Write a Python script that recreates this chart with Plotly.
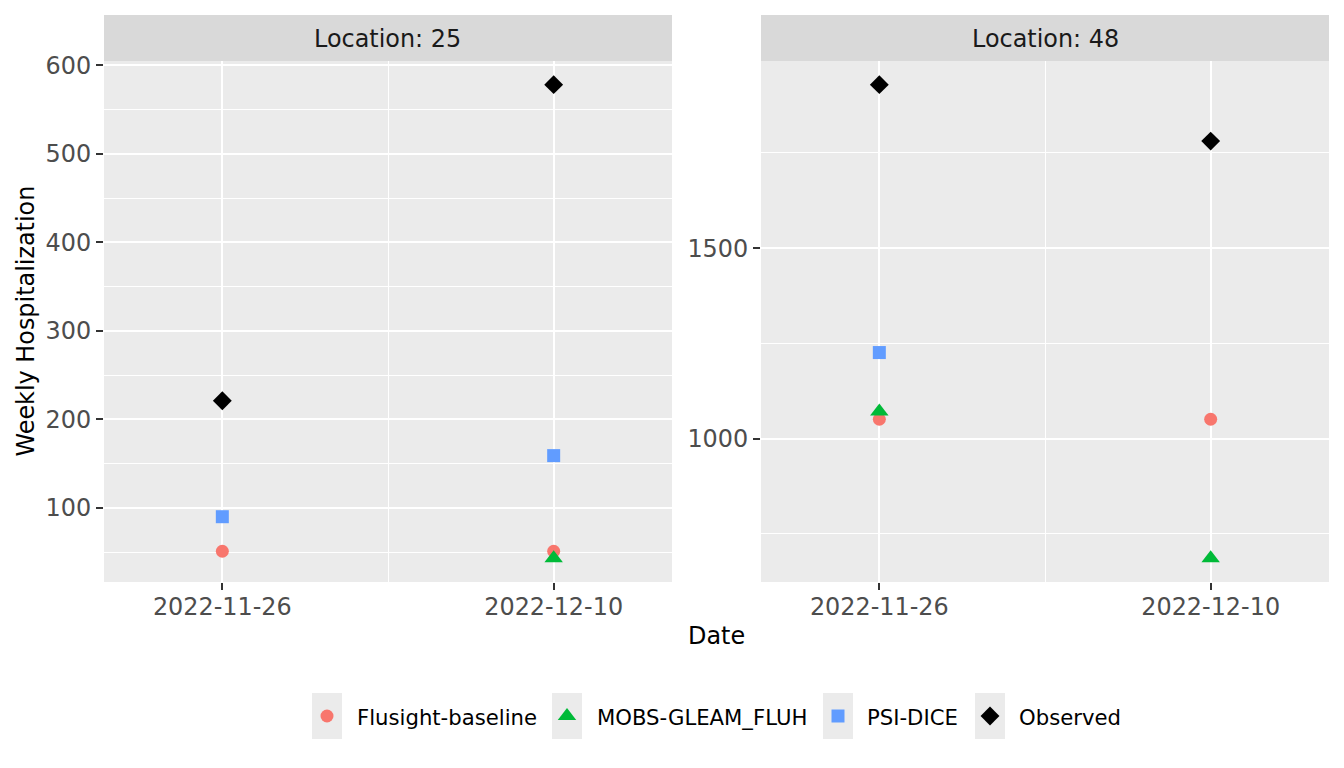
import plotly.graph_objects as go

# ---------------- data ----------------
dates = ["2022-11-26", "2022-12-10"]
tick_labels = ["2022-11-26", "2022-12-10"]
models = ["Flusight-baseline", "MOBS-GLEAM_FLUH", "PSI-DICE", "Observed"]

loc25_flusight = [51, 51]
loc25_mobs = [None, 43]
loc25_psi = [90, 159]
loc25_observed = [221, 578]

loc48_flusight = [1051, 1051]
loc48_mobs = [1071, 686]
loc48_psi = [1226, None]
loc48_observed = [1929, 1781]

locations = ["25", "48"]

# ---------------- styles ----------------
W, H = 1344, 768
FONT = "DejaVu Sans"
FS = 23.9
FS_LEG = 21.2
colors = {"Flusight-baseline": "#F8766D", "MOBS-GLEAM_FLUH": "#00BA38",
          "PSI-DICE": "#619CFF", "Observed": "#000000"}
symbols = {"Flusight-baseline": "circle", "MOBS-GLEAM_FLUH": "triangle-up",
           "PSI-DICE": "square", "Observed": "diamond"}
sizes = {"Flusight-baseline": 13, "MOBS-GLEAM_FLUH": 16,
         "PSI-DICE": 13, "Observed": 14.5}

PANEL_X = [(104, 672), (761, 1329)]
PANEL_TOP, PANEL_BOT = 61, 582
STRIP_TOP = 15


def px(x):
    return x / W


def py(y):
    return 1 - y / H


def ggrange(values):
    v = [a for a in values if a is not None]
    lo, hi = min(v), max(v)
    pad = (hi - lo) * 0.05
    return [lo - pad, hi + pad]


fig = go.Figure()

panels = [
    (loc25_flusight, loc25_mobs, loc25_psi, loc25_observed),
    (loc48_flusight, loc48_mobs, loc48_psi, loc48_observed),
]

for i, series in enumerate(panels):
    xa = "x" if i == 0 else "x2"
    ya = "y" if i == 0 else "y2"
    for name, vals in zip(models, series):
        fig.add_trace(go.Scatter(
            x=dates, y=vals, mode="markers", name=name, showlegend=False,
            xaxis=xa, yaxis=ya,
            marker=dict(color=colors[name], symbol=symbols[name], size=sizes[name],
                        line=dict(width=0)),
        ))

common_x = dict(
    type="date", range=["2022-11-21", "2022-12-15"],
    tickmode="array", tickvals=dates, ticktext=tick_labels,
    ticks="outside", ticklen=7, tickwidth=2, tickcolor="#333333",
    tickfont=dict(family=FONT, size=FS, color="#4D4D4D"),
    ticklabelstandoff=-4,
    showgrid=True, gridcolor="white", gridwidth=2.2,
    minor=dict(tickmode="array", tickvals=["2022-12-03"], showgrid=True,
               gridcolor="white", gridwidth=1.1, ticks=""),
    zeroline=False, showline=False, fixedrange=True, automargin=False,
)
common_y = dict(
    ticks="outside", ticklen=7, tickwidth=2, tickcolor="#333333",
    tickfont=dict(family=FONT, size=FS, color="#4D4D4D"),
    showgrid=True, gridcolor="white", gridwidth=2.2,
    zeroline=False, showline=False, fixedrange=True, automargin=False,
)

r1 = ggrange(loc25_flusight + loc25_mobs + loc25_psi + loc25_observed)
r2 = ggrange(loc48_flusight + loc48_mobs + loc48_psi + loc48_observed)

fig.update_layout(
    template="none",
    width=W, height=H,
    margin=dict(l=0, r=0, t=0, b=0, pad=0, autoexpand=False),
    paper_bgcolor="white", plot_bgcolor="rgba(0,0,0,0)",
    font=dict(family=FONT, size=FS, color="black"),
    showlegend=False,
    xaxis=dict(common_x, domain=[px(PANEL_X[0][0]), px(PANEL_X[0][1])], anchor="y"),
    xaxis2=dict(common_x, domain=[px(PANEL_X[1][0]), px(PANEL_X[1][1])], anchor="y2"),
    yaxis=dict(common_y, domain=[py(PANEL_BOT), py(PANEL_TOP)], anchor="x", range=r1,
               tick0=0, dtick=100,
               minor=dict(tick0=0, dtick=50, showgrid=True, gridcolor="white",
                          gridwidth=1.1, ticks="")),
    yaxis2=dict(common_y, domain=[py(PANEL_BOT), py(PANEL_TOP)], anchor="x2", range=r2,
                tick0=0, dtick=500,
                minor=dict(tick0=0, dtick=250, showgrid=True, gridcolor="white",
                           gridwidth=1.1, ticks="")),
    xaxis3=dict(domain=[0, 1], range=[0, W], visible=False, fixedrange=True,
                anchor="y3", automargin=False),
    yaxis3=dict(domain=[0, 1], range=[H, 0], visible=False, fixedrange=True,
                anchor="x3", automargin=False),
)

shapes = []
annotations = []
# panel backgrounds and strips
for i, (x0, x1) in enumerate(PANEL_X):
    shapes.append(dict(type="rect", xref="paper", yref="paper", layer="below",
                       x0=px(x0), x1=px(x1), y0=py(PANEL_BOT), y1=py(PANEL_TOP),
                       fillcolor="#EBEBEB", line=dict(width=0)))
    shapes.append(dict(type="rect", xref="paper", yref="paper", layer="below",
                       x0=px(x0), x1=px(x1), y0=py(PANEL_TOP), y1=py(STRIP_TOP),
                       fillcolor="#D9D9D9", line=dict(width=0)))
    annotations.append(dict(text=f"Location: {locations[i]}", xref="paper", yref="paper",
                            x=px((x0 + x1) / 2), y=py((STRIP_TOP + PANEL_TOP) / 2 + 1),
                            xanchor="center", yanchor="middle", showarrow=False,
                            font=dict(family=FONT, size=FS, color="#1A1A1A")))

# axis titles
annotations.append(dict(text="Date", xref="paper", yref="paper",
                        x=px((PANEL_X[0][0] + PANEL_X[1][1]) / 2), y=py(636),
                        xanchor="center", yanchor="middle", showarrow=False,
                        font=dict(family=FONT, size=FS, color="black")))
annotations.append(dict(text="Weekly Hospitalization", xref="paper", yref="paper",
                        x=px(25), y=py((PANEL_TOP + PANEL_BOT) / 2), textangle=-90,
                        xanchor="center", yanchor="middle", showarrow=False,
                        font=dict(family=FONT, size=FS, color="black")))

# legend (manual, ggplot style keys)
LEG_KEY_X = [312, 552, 823, 975]
LEG_TEXT_X = [355, 595, 865, 1017]
LEG_Y0, LEG_Y1 = 693, 739
leg_y = (LEG_Y0 + LEG_Y1) / 2
for name, kx, tx in zip(models, LEG_KEY_X, LEG_TEXT_X):
    shapes.append(dict(type="rect", xref="paper", yref="paper", layer="below",
                       x0=px(kx), x1=px(kx + 30), y0=py(LEG_Y1), y1=py(LEG_Y0),
                       fillcolor="#EBEBEB", line=dict(width=0)))
    fig.add_trace(go.Scatter(
        x=[kx + 15], y=[leg_y], mode="markers", showlegend=False, hoverinfo="skip",
        xaxis="x3", yaxis="y3",
        marker=dict(color=colors[name], symbol=symbols[name], size=sizes[name],
                    line=dict(width=0)),
    ))
    annotations.append(dict(text=name, xref="paper", yref="paper",
                            x=px(tx), y=py(leg_y + 1), xanchor="left", yanchor="middle",
                            showarrow=False,
                            font=dict(family=FONT, size=FS_LEG, color="black")))

fig.update_layout(shapes=shapes, annotations=annotations)
fig.write_html("out.html")
